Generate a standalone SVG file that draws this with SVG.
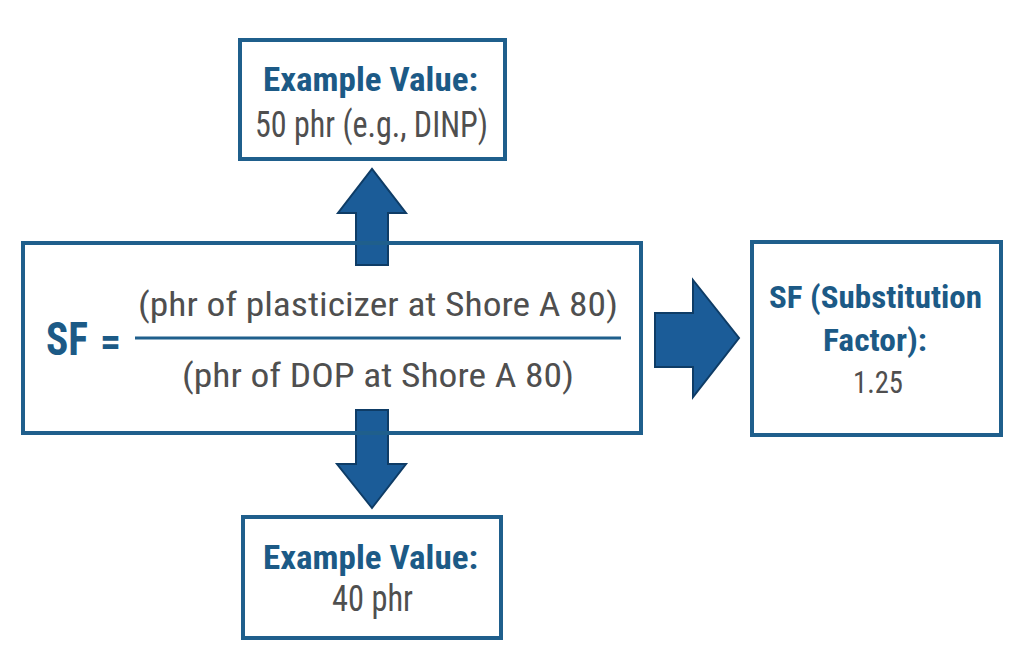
<svg xmlns="http://www.w3.org/2000/svg" width="1021" height="663" viewBox="0 0 1021 663">
<style>
.box{fill:#fff;stroke:#1f5f8c;stroke-width:4}
.arrow{fill:#1b5c98;stroke:#0e3c66;stroke-width:2;stroke-linejoin:miter}
.t{font-family:"Liberation Sans Narrow","Roboto Condensed","Liberation Sans",sans-serif;text-anchor:start}
.b{font-weight:bold;fill:#1c5a86}
.g{fill:#4f4f4f;font-weight:normal}
</style>
<rect width="1021" height="663" fill="#fff"/>
<g id="connectors">
<path class="arrow" d="M356,265 L356,213 L338,213 L372,169 L406,213 L388,213 L388,265 Z"/>
<path class="arrow" d="M356,410 L356,464 L337,464 L372,508 L406,464 L388,464 L388,410 Z"/>
<path class="arrow" d="M655,313 L693,313 L693,280 L739,338 L693,397 L693,367 L655,367 Z"/>
</g>
<g id="top-box">
<rect class="box" x="240" y="40" width="265" height="119"/>
<text class="t b" x="263" y="91" font-size="34" textLength="215" lengthAdjust="spacingAndGlyphs">Example Value:</text>
<text class="t g" x="255" y="137" font-size="36" textLength="233" lengthAdjust="spacingAndGlyphs">50 phr (e.g., DINP)</text>
</g>
<g id="main-box">
<rect class="box" x="23" y="243" width="618" height="190" style="fill:none"/>
<text class="t b" x="46" y="355" font-size="47" textLength="42" lengthAdjust="spacingAndGlyphs">SF</text>
<text class="t b" x="100" y="355" font-size="40" textLength="21" lengthAdjust="spacingAndGlyphs">=</text>
<line x1="135" y1="338" x2="621" y2="338" stroke="#1f5f8c" stroke-width="3"/>
<text class="t g" x="138" y="316" font-size="34" textLength="480" lengthAdjust="spacingAndGlyphs">(phr of plasticizer at Shore A 80)</text>
<text class="t g" x="182" y="387" font-size="34" textLength="392" lengthAdjust="spacingAndGlyphs">(phr of DOP at Shore A 80)</text>
</g>
<g id="result-box">
<rect class="box" x="752" y="242" width="249" height="193"/>
<text class="t b" x="769" y="308" font-size="32" textLength="213" lengthAdjust="spacingAndGlyphs">SF (Substitution</text>
<text class="t b" x="823" y="351" font-size="32" textLength="104" lengthAdjust="spacingAndGlyphs">Factor):</text>
<text class="t g" x="853" y="393" font-size="32" textLength="50" lengthAdjust="spacingAndGlyphs">1.25</text>
</g>
<g id="bottom-box">
<rect class="box" x="243" y="517" width="258" height="121"/>
<text class="t b" x="263" y="569" font-size="34" textLength="215" lengthAdjust="spacingAndGlyphs">Example Value:</text>
<text class="t g" x="332" y="611" font-size="36" textLength="81" lengthAdjust="spacingAndGlyphs">40 phr</text>
</g>
</svg>
